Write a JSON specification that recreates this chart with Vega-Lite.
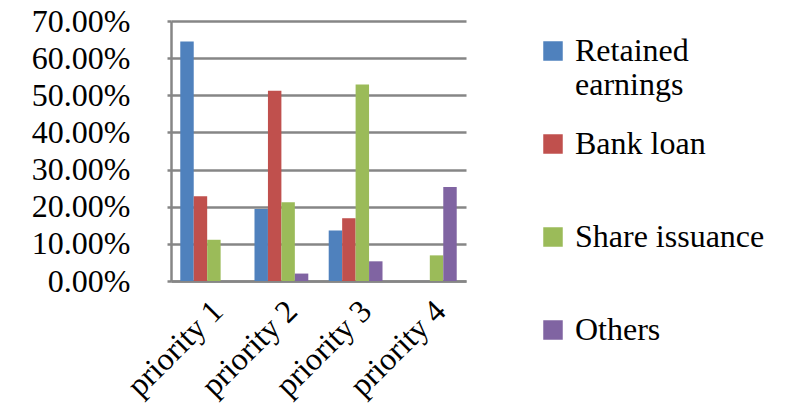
{
  "$schema": "https://vega.github.io/schema/vega-lite/v6.json",
  "width": 295,
  "height": 260,
  "autosize": {"type": "none"},
  "padding": {"left": 171, "top": 21, "right": 343, "bottom": 128},
  "background": "white",
  "config": {
    "view": {"stroke": null},
    "font": "serif",
    "legend": {"labelFont": "serif"}
  },
  "data": {
    "values": [
      {"priority": "priority 1", "source": "Retained earnings", "value": 0.645},
      {"priority": "priority 1", "source": "Bank loan", "value": 0.228},
      {"priority": "priority 1", "source": "Share issuance", "value": 0.111},
      {"priority": "priority 1", "source": "Others", "value": 0},
      {"priority": "priority 2", "source": "Retained earnings", "value": 0.194},
      {"priority": "priority 2", "source": "Bank loan", "value": 0.512},
      {"priority": "priority 2", "source": "Share issuance", "value": 0.212},
      {"priority": "priority 2", "source": "Others", "value": 0.02},
      {"priority": "priority 3", "source": "Retained earnings", "value": 0.136},
      {"priority": "priority 3", "source": "Bank loan", "value": 0.169},
      {"priority": "priority 3", "source": "Share issuance", "value": 0.529},
      {"priority": "priority 3", "source": "Others", "value": 0.053},
      {"priority": "priority 4", "source": "Retained earnings", "value": 0},
      {"priority": "priority 4", "source": "Bank loan", "value": 0},
      {"priority": "priority 4", "source": "Share issuance", "value": 0.069},
      {"priority": "priority 4", "source": "Others", "value": 0.253}
    ]
  },
  "mark": {"type": "bar"},
  "encoding": {
    "x": {
      "field": "priority",
      "type": "nominal",
      "scale": {"paddingInner": 0.275, "paddingOuter": 0.125},
      "axis": {
        "title": null,
        "labelAngle": -45,
        "labelFontSize": 32,
        "labelFont": "Liberation Serif",
        "labelColor": "black",
        "domainColor": "#868686",
        "domainWidth": 2.5,
        "ticks": false,
        "labelPadding": 14,
        "labelDx": -16,
        "labelAlign": "right",
        "labelBaseline": "top"
      }
    },
    "xOffset": {
      "field": "source",
      "sort": ["Retained earnings", "Bank loan", "Share issuance", "Others"],
      "scale": {"paddingInner": 0}
    },
    "y": {
      "field": "value",
      "type": "quantitative",
      "scale": {"domain": [0, 0.7]},
      "axis": {
        "title": null,
        "values": [0, 0.1, 0.2, 0.3, 0.4, 0.5, 0.6, 0.7],
        "format": ".2%",
        "labelFontSize": 32,
        "labelFont": "Liberation Serif",
        "labelColor": "black",
        "grid": true,
        "gridColor": "#868686",
        "gridWidth": 2.5,
        "tickColor": "#868686",
        "tickWidth": 2.5,
        "tickSize": 4,
        "domainColor": "#868686",
        "domainWidth": 2.5,
        "labelPadding": 37
      }
    },
    "color": {
      "field": "source",
      "type": "nominal",
      "sort": ["Retained earnings", "Bank loan", "Share issuance", "Others"],
      "scale": {
        "domain": ["Retained earnings", "Bank loan", "Share issuance", "Others"],
        "range": ["#4F81BD", "#C0504D", "#9BBB59", "#8064A2"]
      },
      "legend": {
        "title": null,
        "orient": "none",
        "legendX": 366,
        "legendY": 14,
        "symbolType": "square",
        "symbolSize": 380,
        "symbolStrokeWidth": 0,
        "labelFontSize": 32,
        "labelFont": "serif",
        "labelColor": "black",
        "labelOffset": 6,
        "rowPadding": 27,
        "gridAlign": "all",
        "labelLimit": 400,
        "labelExpr": "datum.label == 'Retained earnings' ? ['Retained', 'earnings'] : datum.label"
      }
    }
  }
}
